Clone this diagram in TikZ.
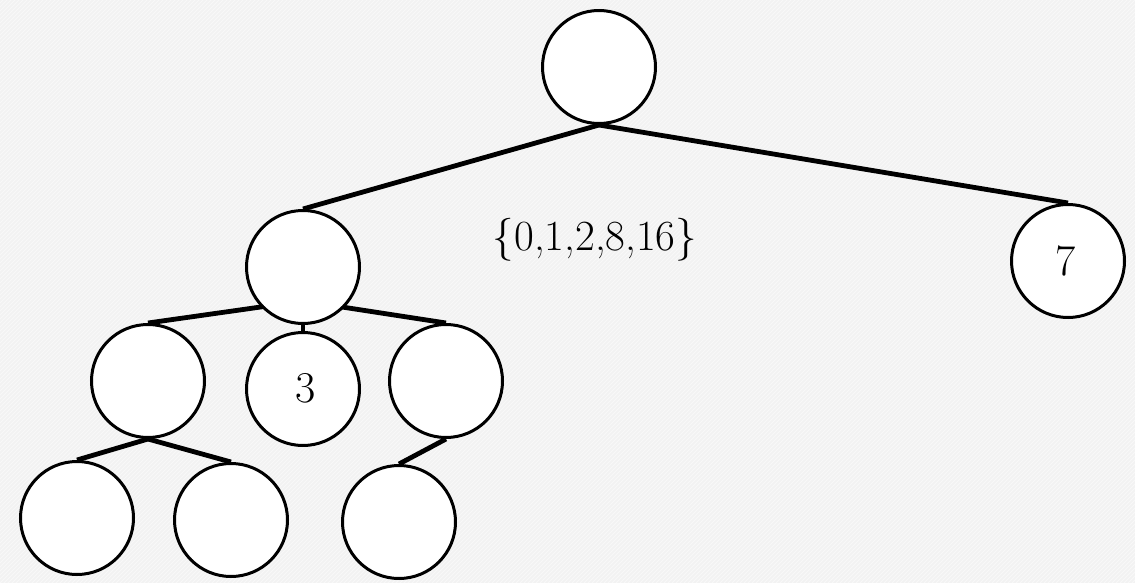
\documentclass[tikz,border=0pt]{standalone}
\definecolor{paper}{RGB}{242,242,242}
\pgfdeclarelayer{paperlayer}
\pgfdeclarelayer{edgelayer}
\pgfsetlayers{paperlayer,edgelayer,main}
\tikzset{
  vertex/.style={circle, draw=black, line width=3pt, fill=white, minimum size=113pt, inner sep=0pt},
  edge/.style={line width=4.8pt, black},
  lbl/.style={font=\fontsize{44}{52}\selectfont, anchor=base, inner sep=0pt}
}
\begin{document}
\begin{tikzpicture}[x=1pt, y=-1pt]
  % page and faintly striped background
  \begin{pgfonlayer}{paperlayer}
    \fill[paper] (0,0) rectangle (1135,583);
    \begin{scope}
      \clip (0,0) rectangle (1135,583);
      \foreach \k in {-600,-596,...,1140} {
        \draw[white, line width=0.8pt, opacity=0.5] (\k,583) -- (\k+583,0);
      }
    \end{scope}
  \end{pgfonlayer}
  \useasboundingbox (0,0) rectangle (1135,583);

  % tree nodes
  \node[vertex] (root) at (599,67) {};
  \node[vertex] (L)    at (303,267) {};
  \node[vertex] (R)    at (1068,261) {};
  \node[vertex] (A)    at (148,381) {};
  \node[vertex] (B)    at (303,389) {};
  \node[vertex] (C)    at (446,381) {};
  \node[vertex] (D)    at (77,518) {};
  \node[vertex] (E)    at (231,520) {};
  \node[vertex] (F)    at (399,522) {};

  % connectors, kept underneath the circles
  \begin{pgfonlayer}{edgelayer}
    \draw[edge] (root.south) -- (L.north);
    \draw[edge] (root.south) -- (R.north);
    \draw[edge] ([yshift=24pt]L.south) -- (A.north);
    \draw[edge] (L.south) -- (B.north);
    \draw[edge] ([yshift=24pt]L.south) -- (C.north);
    \draw[edge] (A.south) -- (D.north);
    \draw[edge] (A.south) -- (E.north);
    \draw[edge] (C.south) -- (F.north);
  \end{pgfonlayer}

  % labels
  \node[lbl] (t3) at (306,402) {3};
  \node[lbl] (t7) at (1066,275) {7};
  \node[lbl, font=\fontsize{43}{51}\selectfont] (set) at (595,250) {\{0,1,2,8,16\}};
\end{tikzpicture}
\end{document}
